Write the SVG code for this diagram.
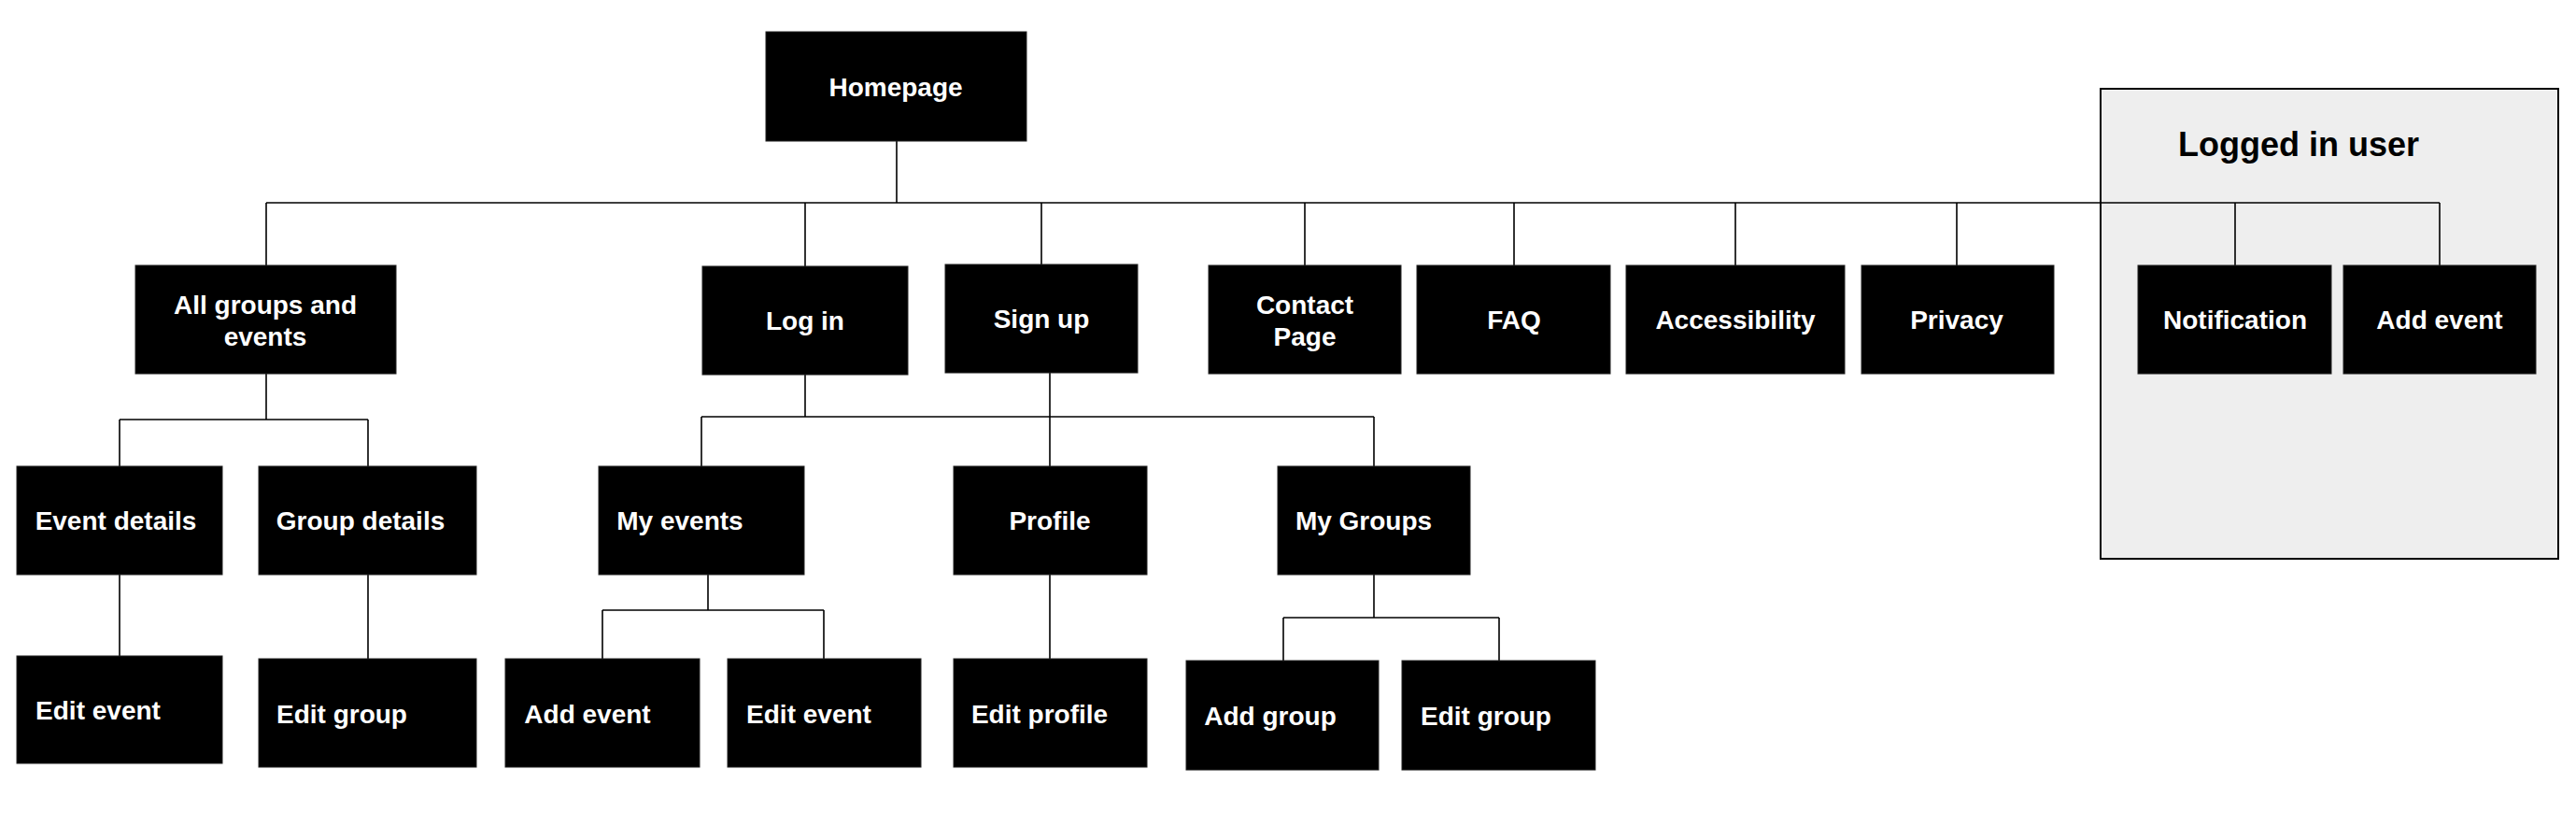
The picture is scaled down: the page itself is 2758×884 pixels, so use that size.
<svg xmlns="http://www.w3.org/2000/svg" width="2758" height="884" viewBox="0 0 2758 884">
<style>
.n rect{fill:#000;stroke:#222;stroke-width:1}
.n text{fill:#fff;font-family:"Liberation Sans",Arial,sans-serif;font-weight:bold;font-size:28px;text-anchor:middle}
.c path{fill:none;stroke:#000;stroke-width:1.6}
.g rect{fill:#eeeeee;stroke:#000;stroke-width:2}
.g text{fill:#000;font-family:"Liberation Sans",Arial,sans-serif;font-weight:bold;font-size:36px;text-anchor:middle}
</style>
<rect width="2758" height="884" fill="#fff"/>
<g id="logged-in-user" class="g">
<rect x="2249" y="95" width="490" height="503"/>
<text x="2461" y="167">Logged in user</text>
</g>
<g id="connectors" class="c">
<path d="M960 151V217M285 217H2612"/>
<path d="M285 217V284M862 217V285M1115 217V283M1397 217V284M1621 217V284M1858 217V284M2095 217V284M2393 217V284M2612 217V284"/>
<path d="M285 400V449M128 449H394M128 449V499M394 449V499"/>
<path d="M128 615V702M394 615V705"/>
<path d="M862 401V446M751 446H1471M751 446V499M1471 446V499M1124 399V499M1124 615V705"/>
<path d="M758 615V653M645 653H882M645 653V705M882 653V705"/>
<path d="M1471 615V661M1374 661H1605M1374 661V707M1605 661V707"/>
</g>
<g id="homepage" class="n"><rect x="820" y="34" width="279" height="117"/><text x="959" y="103">Homepage</text></g>
<g id="all-groups" class="n"><rect x="145" y="284" width="279" height="116"/><text x="284" y="336">All groups and</text><text x="284" y="370">events</text></g>
<g id="log-in" class="n"><rect x="752" y="285" width="220" height="116"/><text x="862" y="353">Log in</text></g>
<g id="sign-up" class="n"><rect x="1012" y="283" width="206" height="116"/><text x="1115" y="351">Sign up</text></g>
<g id="contact" class="n"><rect x="1294" y="284" width="206" height="116"/><text x="1397" y="336">Contact</text><text x="1397" y="370">Page</text></g>
<g id="faq" class="n"><rect x="1517" y="284" width="207" height="116"/><text x="1621" y="352">FAQ</text></g>
<g id="accessibility" class="n"><rect x="1741" y="284" width="234" height="116"/><text x="1858" y="352">Accessibility</text></g>
<g id="privacy" class="n"><rect x="1993" y="284" width="206" height="116"/><text x="2095" y="352">Privacy</text></g>
<g id="notification" class="n"><rect x="2289" y="284" width="207" height="116"/><text x="2393" y="352">Notification</text></g>
<g id="add-event-top" class="n"><rect x="2509" y="284" width="206" height="116"/><text x="2612" y="352">Add event</text></g>
<g id="event-details" class="n"><rect x="18" y="499" width="220" height="116"/><text x="124" y="567">Event details</text></g>
<g id="group-details" class="n"><rect x="277" y="499" width="233" height="116"/><text x="386" y="567">Group details</text></g>
<g id="my-events" class="n"><rect x="641" y="499" width="220" height="116"/><text x="728" y="567">My events</text></g>
<g id="profile" class="n"><rect x="1021" y="499" width="207" height="116"/><text x="1124" y="567">Profile</text></g>
<g id="my-groups" class="n"><rect x="1368" y="499" width="206" height="116"/><text x="1460" y="567">My Groups</text></g>
<g id="edit-event-1" class="n"><rect x="18" y="702" width="220" height="115"/><text x="105" y="770">Edit event</text></g>
<g id="edit-group-1" class="n"><rect x="277" y="705" width="233" height="116"/><text x="366" y="774">Edit group</text></g>
<g id="add-event" class="n"><rect x="541" y="705" width="208" height="116"/><text x="629" y="774">Add event</text></g>
<g id="edit-event-2" class="n"><rect x="779" y="705" width="207" height="116"/><text x="866" y="774">Edit event</text></g>
<g id="edit-profile" class="n"><rect x="1021" y="705" width="207" height="116"/><text x="1113" y="774">Edit profile</text></g>
<g id="add-group" class="n"><rect x="1270" y="707" width="206" height="117"/><text x="1360" y="776">Add group</text></g>
<g id="edit-group-2" class="n"><rect x="1501" y="707" width="207" height="117"/><text x="1591" y="776">Edit group</text></g>
</svg>
